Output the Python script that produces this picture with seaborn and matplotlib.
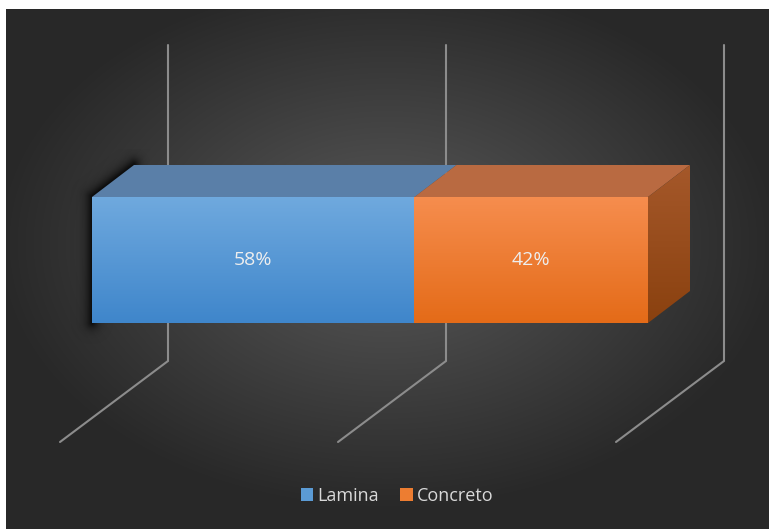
import numpy as np
import pandas as pd
import matplotlib.pyplot as plt
from matplotlib.colors import to_rgb
from matplotlib.patches import Polygon, Rectangle
import seaborn as sns

# data
categories = ["Lamina", "Concreto"]
shares = [58, 42]
bar_labels = ["58%", "42%"]
grid_values = [0, 50, 100]
colors = ["#5b9bd5", "#ed7d31"]

sns.set_style("dark")
plt.rcParams['font.family'] = ['Open Sans', 'DejaVu Sans']

W, H = 769, 529
fig = plt.figure(figsize=(W / 100, H / 100), dpi=100)
fig.patch.set_facecolor("white")

# background panel with radial gradient
bg = fig.add_axes([6 / W, 0, 1 - 6 / W, 1 - 9 / H])
bg.set_axis_off()
yy, xx = np.mgrid[0:1:300j, 0:1:420j]
r = np.sqrt(((xx - 0.50) / 0.75) ** 2 + ((yy - 0.45) / 0.75) ** 2)
shade = np.clip(0.35 - 0.28 * r, 0.16, 0.35)
bg.imshow(np.dstack([shade] * 3), extent=[0, 1, 1, 0], aspect="auto", interpolation="bicubic")
bg.set_xlim(0, 1)
bg.set_ylim(1, 0)

# data axes covering whole figure
ax = fig.add_axes([0, 0, 1, 1])
ax.patch.set_alpha(0)

px_x = 556 / 100.0          # pixels per percent
px_y = 126.0                # pixels per bar unit
x_left = -92 / px_x
x_right = 100 + (W - 648) / px_x
y_bottom = -0.5 - (H - 323) / px_y
y_top = 0.5 + 197 / px_y

dx = 42 / px_x
dy = 32 / px_y


def to_dx(p):
    return (p - 92) / px_x


def to_dy(q):
    return y_bottom + (H - q) / px_y


# gridlines (back wall + floor)
back_off = 76 / px_x
floor_dx = -108 / px_x
for g in grid_values:
    xb = g * 1.0 + back_off
    ax.plot([xb, xb, xb + floor_dx], [to_dy(45), to_dy(361), to_dy(442)],
            color="#8c8c8c", lw=1.5, zorder=1, solid_joinstyle="miter")

# soft shadow on the left side of the bar
sx0, sx1, sy0, sy1 = 60, 150, 150, 345
qy, qx = np.mgrid[sy0:sy1, sx0:sx1] + 0.5
segs = [((92, 323), (92, 197)), ((92, 197), (134, 165))]
dist = np.full(qx.shape, 1e9)
for (ax0, ay0), (ax1, ay1) in segs:
    vx, vy = ax1 - ax0, ay1 - ay0
    t = np.clip(((qx - ax0) * vx + (qy - ay0) * vy) / (vx * vx + vy * vy), 0, 1)
    d = np.hypot(qx - (ax0 + t * vx), qy - (ay0 + t * vy))
    dist = np.minimum(dist, d)
alpha = 0.75 * np.exp(-(dist / 6.0) ** 1.3)
rgba = np.zeros(qx.shape + (4,))
rgba[..., 3] = alpha
ax.imshow(rgba, extent=[to_dx(sx0), to_dx(sx1), to_dy(sy1), to_dy(sy0)],
          origin="upper", aspect="auto", zorder=2, interpolation="bilinear")

# stacked bars drawn through seaborn
cum = np.cumsum(shares)
for val, col in zip(cum[::-1], colors[::-1]):
    sns.barplot(x=[val], y=["bar"], orient="h", color=col, width=1.0,
                saturation=1, ax=ax, zorder=3, linewidth=0, edgecolor="none")

# gradient overlays on front faces
tops = ["#6fa9de", "#f68d4e"]
bots = ["#3f86cb", "#e46b18"]
starts = np.concatenate([[0], cum[:-1]])
grad = np.linspace(0, 1, 100)[:, None, None]
for s0, v, c1, c2 in zip(starts, shares, tops, bots):
    img = np.array(to_rgb(c1)) * (1 - grad) + np.array(to_rgb(c2)) * grad
    ax.imshow(img, extent=[s0, s0 + v, -0.5, 0.5], origin="upper", aspect="auto", zorder=4)

# top faces
top_cols = ["#5a7fa8", "#b96a41"]
for s0, v, tc in zip(starts, shares, top_cols):
    ax.add_patch(Polygon([(s0, 0.5), (s0 + v, 0.5), (s0 + v + dx, 0.5 + dy), (s0 + dx, 0.5 + dy)],
                         closed=True, facecolor=tc, edgecolor="none", zorder=5))

# right side face with gradient
side = Polygon([(cum[-1], -0.5), (cum[-1], 0.5), (cum[-1] + dx, 0.5 + dy), (cum[-1] + dx, -0.5 + dy)],
               closed=True, facecolor="none", edgecolor="none", zorder=5)
ax.add_patch(side)
img = np.array(to_rgb("#a5582a")) * (1 - grad) + np.array(to_rgb("#8a410f")) * grad
im = ax.imshow(img, extent=[cum[-1], cum[-1] + dx, -0.5, 0.5 + dy],
               origin="upper", aspect="auto", zorder=5)
im.set_clip_path(side)

# value labels
for s0, v, lab in zip(starts, shares, bar_labels):
    ax.text(s0 + v / 2, 0, lab, ha="center", va="center", color="#eeeeee",
            fontsize=14, zorder=6)

ax.set_xlim(x_left, x_right)
ax.set_ylim(y_bottom, y_top)
ax.set_axis_off()

# legend
handles = [Rectangle((0, 0), 1, 1, facecolor=c, edgecolor="none") for c in colors]
leg = fig.legend(handles, categories, loc="center", bbox_to_anchor=(397 / W, 1 - 496 / H),
                 ncol=2, frameon=False, fontsize=13, handlelength=0.7, handleheight=0.7,
                 handletextpad=0.2, columnspacing=1.2)
for t in leg.get_texts():
    t.set_color("#d9d9d9")

fig.savefig("out.png", dpi=100)
